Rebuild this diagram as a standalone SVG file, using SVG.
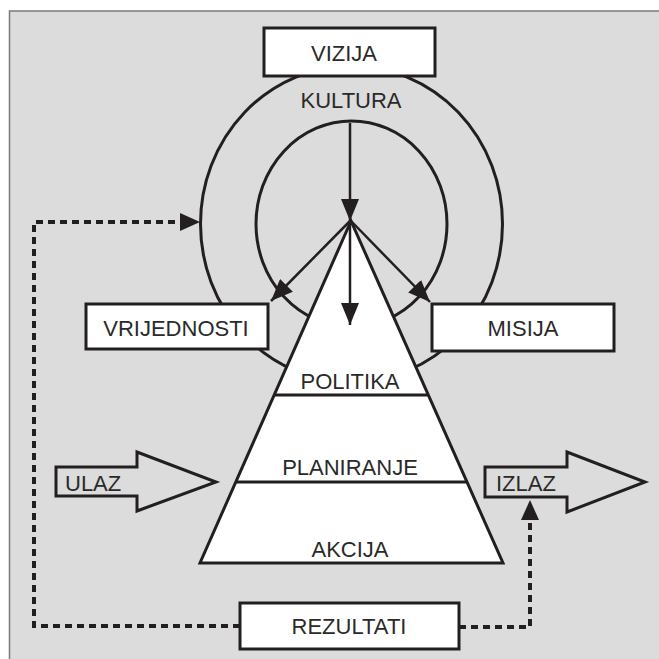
<svg xmlns="http://www.w3.org/2000/svg" width="659" height="659" viewBox="0 0 659 659">
<defs>
<style>
.ln{fill:none;stroke:#231f20;stroke-width:3}
.box{fill:#fff;stroke:#231f20;stroke-width:3}
.arr{fill:none;stroke:#231f20;stroke-width:2.5}
.dash{fill:none;stroke:#231f20;stroke-width:4;stroke-dasharray:7 5}
.t{font-family:"Liberation Sans",Arial,sans-serif;font-size:22px;fill:#2a2a2a;text-anchor:middle}
.tl{font-family:"Liberation Sans",Arial,sans-serif;font-size:22px;fill:#2a2a2a}
</style>
<marker id="ah" markerUnits="userSpaceOnUse" markerWidth="22" markerHeight="18" refX="22" refY="9" orient="auto" viewBox="0 0 22 18">
<path d="M0,0 L22,9 L0,18 Z" fill="#231f20"/>
</marker>
<marker id="ahd" markerUnits="userSpaceOnUse" markerWidth="20" markerHeight="18" refX="20" refY="9" orient="auto" viewBox="0 0 20 18">
<path d="M0,0 L20,9 L0,18 Z" fill="#231f20"/>
</marker>
</defs>
<rect x="0" y="0" width="659" height="659" fill="#fff"/>
<rect x="9.5" y="11" width="660" height="660" fill="#dcdcdc" stroke="#7a7a7a" stroke-width="1.5"/>

<g id="kultura">
<ellipse class="ln" cx="351.5" cy="224" rx="151" ry="158"/>
<ellipse class="ln" cx="351.5" cy="224" rx="95.5" ry="103"/>
<text class="t" x="351" y="108">KULTURA</text>
</g>

<g id="piramida">
<polygon points="351,221 200,563 503,563" fill="#fff" stroke="#231f20" stroke-width="3" stroke-linejoin="miter"/>
<line class="ln" x1="274" y1="395" x2="428" y2="395"/>
<line class="ln" x1="236" y1="482" x2="466" y2="482"/>
<text class="t" x="350" y="389">POLITIKA</text>
<text class="t" x="350" y="475">PLANIRANJE</text>
<text class="t" x="350" y="557">AKCIJA</text>
</g>

<g id="vizija">
<rect class="box" x="264" y="28" width="171" height="48"/>
<text class="t" x="344" y="61">VIZIJA</text>
</g>

<g id="vrijednosti">
<rect class="box" x="86" y="304" width="182" height="45"/>
<text class="t" x="176" y="336">VRIJEDNOSTI</text>
</g>

<g id="misija">
<rect class="box" x="432" y="304" width="182" height="47"/>
<text class="t" x="523" y="336">MISIJA</text>
</g>

<g id="rezultati">
<rect class="box" x="240" y="603" width="219" height="46"/>
<text class="t" x="349" y="634">REZULTATI</text>
</g>

<g id="ulaz">
<polygon class="ln" points="56,467 137,467 137,452 216,482 137,511 137,496 56,496"/>
<text class="tl" x="65" y="491">ULAZ</text>
</g>

<g id="izlaz">
<polygon class="ln" points="485,467 567,467 567,452 645,482 567,512 567,497 485,497"/>
<text class="tl" x="496" y="491">IZLAZ</text>
</g>

<g id="connectors">
<line class="arr" x1="350" y1="123" x2="350" y2="221" marker-end="url(#ah)"/>
<line class="arr" x1="350" y1="221" x2="350" y2="325" marker-end="url(#ah)"/>
<line class="arr" x1="350" y1="221" x2="271" y2="301" marker-end="url(#ah)"/>
<line class="arr" x1="351" y1="221" x2="430" y2="302" marker-end="url(#ah)"/>
<polyline class="dash" points="240,626 34,626 34,222 183,222"/>
<line x1="180" y1="222" x2="200" y2="222" stroke="none" marker-end="url(#ahd)"/>
<polyline class="dash" points="459,627 530,627 530,518"/>
<line x1="530" y1="521" x2="530" y2="500" stroke="none" marker-end="url(#ahd)"/>
</g>
</svg>
